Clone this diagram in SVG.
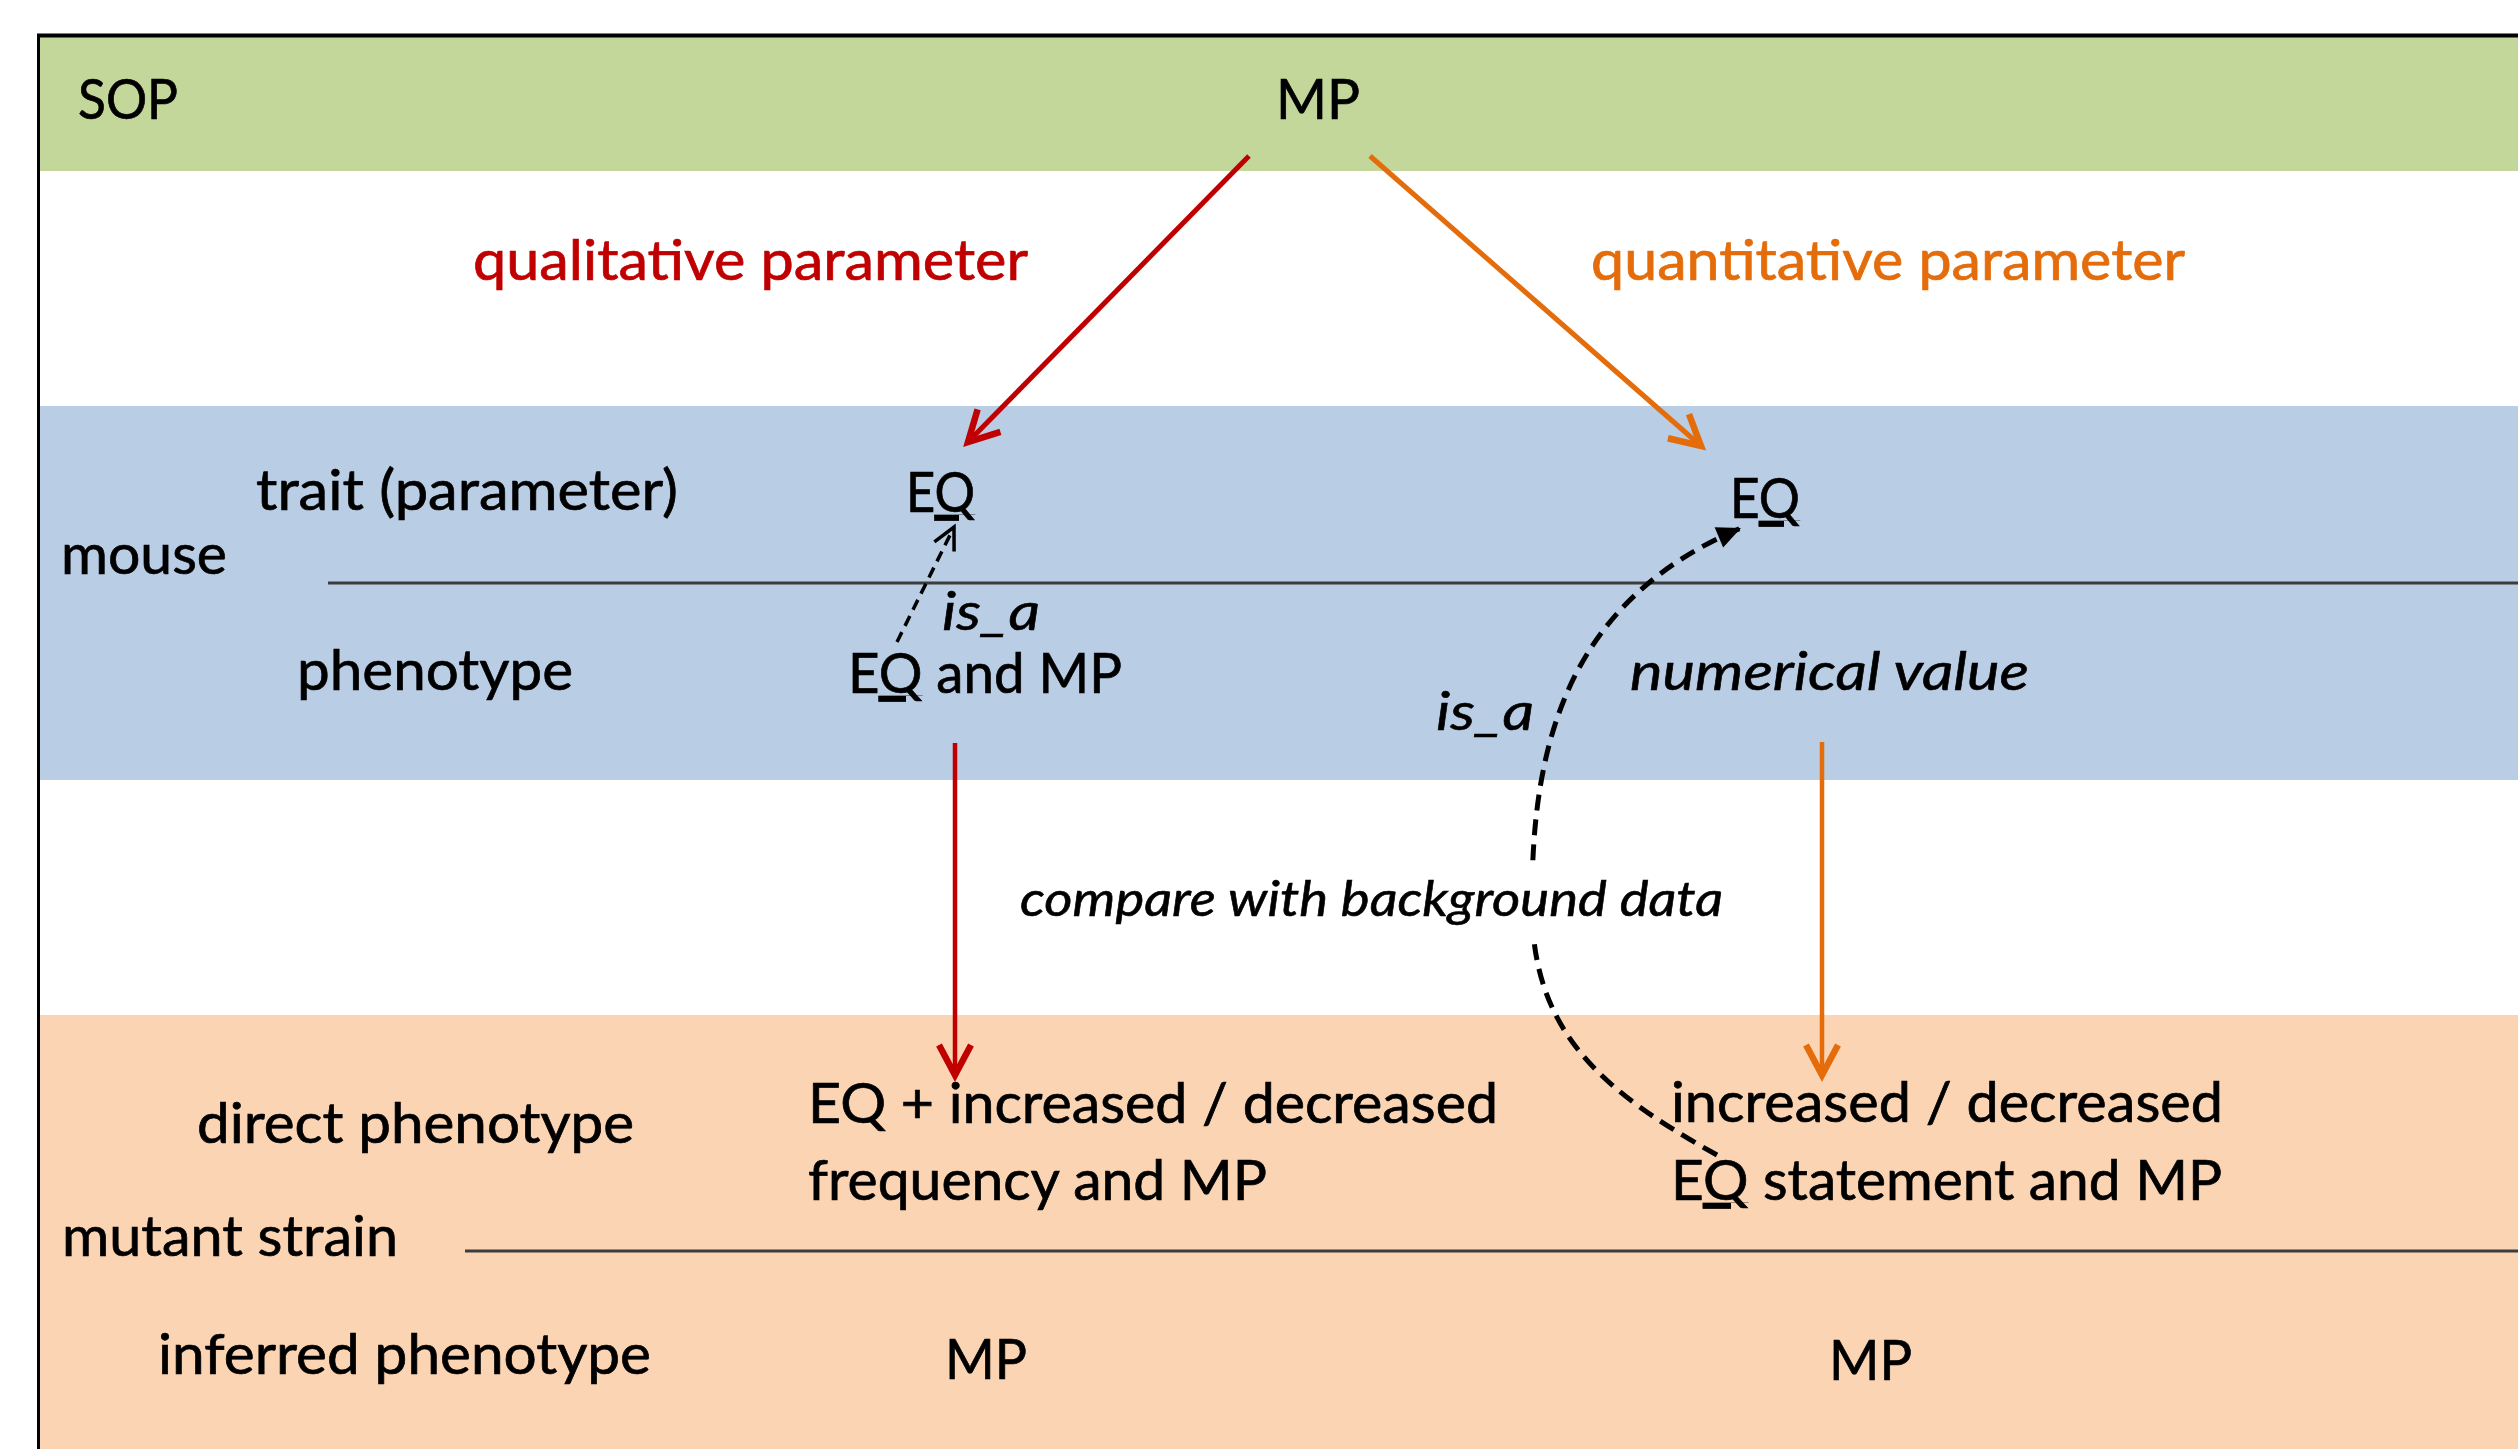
<svg xmlns="http://www.w3.org/2000/svg" width="2518" height="1449" viewBox="0 0 2518 1449">
  <style>
    .lbl { font-family: Lato, "Open Sans", "Liberation Sans", sans-serif; font-size: 56px; fill: #000; stroke: #000; stroke-width: 0.7; }
    .it { font-family: Lato, "Open Sans", "Liberation Sans", sans-serif; font-style: italic; font-size: 52px; fill: #000; stroke: #000; stroke-width: 0.6; }
    .small { font-size: 48px; }
    .red { fill: #C00000; stroke: #C00000; }
    .orange { fill: #E46C0A; stroke: #E46C0A; }
    .u { text-decoration: underline; }
    .sep { stroke: #3c3c3c; stroke-width: 3; }
  </style>
  <defs>
    <!-- open V head for the solid coloured arrows -->
    <marker id="headRed" markerUnits="userSpaceOnUse" viewBox="-40 -25 50 50" markerWidth="50" markerHeight="50" refX="0" refY="0" orient="auto" overflow="visible">
      <path d="M-30,-16 L0,0 L-30,16" fill="none" stroke="#C00000" stroke-width="6.5" stroke-linejoin="miter"/>
    </marker>
    <marker id="headOrange" markerUnits="userSpaceOnUse" viewBox="-40 -25 50 50" markerWidth="50" markerHeight="50" refX="0" refY="0" orient="auto" overflow="visible">
      <path d="M-30,-16 L0,0 L-30,16" fill="none" stroke="#E46C0A" stroke-width="6.5" stroke-linejoin="miter"/>
    </marker>
    <!-- small open head for the straight is_a link -->
    <marker id="headOpen" markerUnits="userSpaceOnUse" viewBox="-30 -20 40 40" markerWidth="40" markerHeight="40" refX="0" refY="0" orient="auto" overflow="visible">
      <path d="M-22,-11 L0,0 L-22,11" fill="none" stroke="#000" stroke-width="3.5"/>
    </marker>
    <!-- filled triangle for the curved is_a link -->
    <marker id="headTri" markerUnits="userSpaceOnUse" viewBox="-30 -20 40 40" markerWidth="40" markerHeight="40" refX="0" refY="0" orient="auto" overflow="visible">
      <path d="M0,0 L-24,-11 L-24,11 Z" fill="#000"/>
    </marker>
  </defs>

  <!-- background bands -->
  <g id="bands">
    <rect x="0" y="0" width="2518" height="1449" fill="#FFFFFF"/>
    <rect x="38" y="36" width="2480" height="135" fill="#C4D79B"/>
    <rect x="38" y="406" width="2480" height="374" fill="#B9CDE5"/>
    <rect x="38" y="1015" width="2480" height="434" fill="#FBD4B4"/>
    <line x1="38.5" y1="1449" x2="38.5" y2="35.5" stroke="#000" stroke-width="3"/>
    <line x1="37" y1="35.5" x2="2518" y2="35.5" stroke="#000" stroke-width="4"/>
    <line class="sep" x1="328" y1="583" x2="2518" y2="583"/>
    <line class="sep" x1="465" y1="1251" x2="2518" y2="1251"/>
  </g>

  <!-- connectors -->
  <g id="connectors">
    <line x1="1249" y1="156" x2="968" y2="442" stroke="#C00000" stroke-width="5" marker-end="url(#headRed)"/>
    <line x1="1370" y1="156" x2="1701" y2="446" stroke="#E46C0A" stroke-width="5" marker-end="url(#headOrange)"/>
    <line x1="955" y1="743" x2="955" y2="1075" stroke="#C00000" stroke-width="4.5" marker-end="url(#headRed)"/>
    <line x1="1822" y1="742" x2="1822" y2="1075" stroke="#E46C0A" stroke-width="4.5" marker-end="url(#headOrange)"/>
    <line x1="897" y1="642" x2="954" y2="527" stroke="#000" stroke-width="3.5" stroke-dasharray="11 7" marker-end="url(#headOpen)"/>
    <path d="M1717,1155 C1600,1090 1530,1030 1532,900 C1532,740 1570,600 1741,528" fill="none" stroke="#000" stroke-width="5" stroke-dasharray="16 9" marker-end="url(#headTri)"/>
  </g>

  <!-- row labels -->
  <g id="sop"><text class="lbl" x="78" y="119" textLength="100" lengthAdjust="spacingAndGlyphs">SOP</text></g>
  <g id="mouse"><text class="lbl" x="61" y="574" textLength="166" lengthAdjust="spacingAndGlyphs">mouse</text></g>
  <g id="trait"><text class="lbl" x="256" y="510" textLength="422" lengthAdjust="spacingAndGlyphs">trait (parameter)</text></g>
  <g id="phenotype"><text class="lbl" x="297" y="690" textLength="276" lengthAdjust="spacingAndGlyphs">phenotype</text></g>
  <g id="mutant-strain"><text class="lbl" x="62" y="1256" textLength="336" lengthAdjust="spacingAndGlyphs">mutant strain</text></g>
  <g id="direct-phenotype"><text class="lbl" x="197" y="1143" textLength="437" lengthAdjust="spacingAndGlyphs">direct phenotype</text></g>
  <g id="inferred-phenotype"><text class="lbl" x="158" y="1374" textLength="493" lengthAdjust="spacingAndGlyphs">inferred phenotype</text></g>

  <!-- nodes -->
  <g id="mp-top"><text class="lbl" x="1276" y="119" textLength="84" lengthAdjust="spacingAndGlyphs">MP</text></g>
  <g id="qualitative"><text class="lbl red" x="473" y="280" textLength="555" lengthAdjust="spacingAndGlyphs">qualitative parameter</text></g>
  <g id="quantitative"><text class="lbl orange" x="1591" y="280" textLength="594" lengthAdjust="spacingAndGlyphs">quantitative parameter</text></g>

  <g id="eq-left"><text class="lbl" x="906" y="512" textLength="69" lengthAdjust="spacingAndGlyphs">E<tspan class="u">Q</tspan></text></g>
  <g id="eq-right"><text class="lbl" x="1730" y="518" textLength="70" lengthAdjust="spacingAndGlyphs">E<tspan class="u">Q</tspan></text></g>

  <g id="isa-left"><text class="it" x="942" y="630" textLength="98" lengthAdjust="spacingAndGlyphs">is_a</text></g>
  <g id="eq-and-mp"><text class="lbl" x="848" y="693" textLength="274" lengthAdjust="spacingAndGlyphs">E<tspan class="u">Q</tspan> and MP</text></g>
  <g id="numerical-value"><text class="it" x="1630" y="690" textLength="399" lengthAdjust="spacingAndGlyphs">numerical value</text></g>
  <g id="isa-right"><text class="it" x="1436" y="730" textLength="98" lengthAdjust="spacingAndGlyphs">is_a</text></g>

  <g id="compare">
    <rect x="1008" y="862" width="730" height="80" fill="#FFFFFF"/>
    <text class="it small" x="1020" y="916" textLength="703" lengthAdjust="spacingAndGlyphs">compare with background data</text>
  </g>

  <g id="direct-left">
    <text class="lbl" x="808" y="1123" textLength="690" lengthAdjust="spacingAndGlyphs">EQ + increased / decreased</text>
    <text class="lbl" x="808" y="1200" textLength="459" lengthAdjust="spacingAndGlyphs">frequency and MP</text>
  </g>
  <g id="direct-right">
    <text class="lbl" x="1671" y="1122" textLength="552" lengthAdjust="spacingAndGlyphs">increased / decreased</text>
    <text class="lbl" x="1671" y="1200" textLength="551" lengthAdjust="spacingAndGlyphs">E<tspan class="u">Q</tspan> statement and MP</text>
  </g>

  <g id="mp-left"><text class="lbl" x="945" y="1379" textLength="82" lengthAdjust="spacingAndGlyphs">MP</text></g>
  <g id="mp-right"><text class="lbl" x="1829" y="1380" textLength="83" lengthAdjust="spacingAndGlyphs">MP</text></g>
</svg>
